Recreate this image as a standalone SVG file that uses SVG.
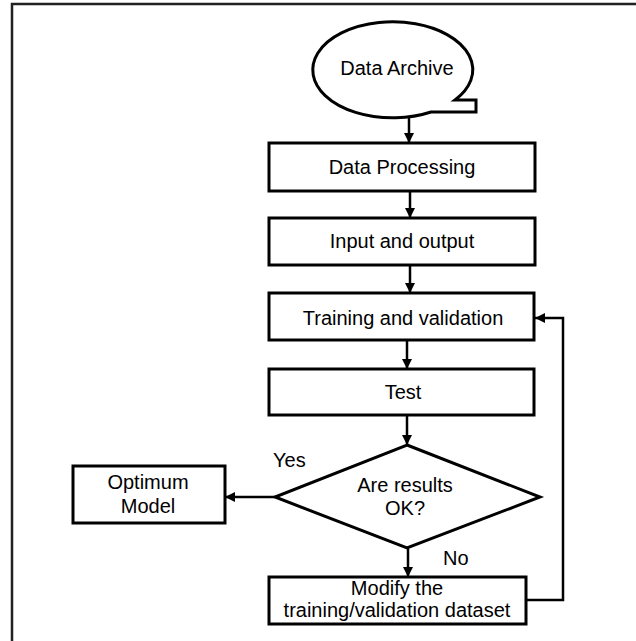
<svg xmlns="http://www.w3.org/2000/svg" width="636" height="641" viewBox="0 0 636 641">
<defs>
<style>
.box{fill:#fff;stroke:#000;stroke-width:3}
.ln{fill:none;stroke:#000;stroke-width:2.5}
text{font-family:"Liberation Sans",Arial,sans-serif;font-size:20px;fill:#000;text-anchor:middle}
.lbl{text-anchor:start}
</style>
<marker id="ah" viewBox="0 0 10 10" refX="10" refY="5" markerWidth="10" markerHeight="10" markerUnits="userSpaceOnUse" orient="auto">
<path d="M0,0 L10,5 L0,10 Z" fill="#000"/>
</marker>
</defs>
<rect width="636" height="641" fill="#fff"/>
<path d="M12,641 L12,4 L636,4" fill="none" stroke="#222" stroke-width="2.5"/>
<g id="connectors">
<line class="ln" x1="409" y1="117" x2="409" y2="143" marker-end="url(#ah)"/>
<line class="ln" x1="410" y1="191" x2="410" y2="218" marker-end="url(#ah)"/>
<line class="ln" x1="410" y1="265" x2="410" y2="293" marker-end="url(#ah)"/>
<line class="ln" x1="407" y1="340" x2="407" y2="369" marker-end="url(#ah)"/>
<line class="ln" x1="407" y1="415" x2="407" y2="445" marker-end="url(#ah)"/>
<line class="ln" x1="275" y1="497" x2="225" y2="497" marker-end="url(#ah)"/>
<line class="ln" x1="408" y1="548" x2="408" y2="577" marker-end="url(#ah)"/>
<polyline class="ln" points="526,600 563,600 563,318 535,318" marker-end="url(#ah)"/>
</g>
<g id="data-archive">
<path class="box" d="M455,100 L476,100 L476,112 L431,112 A80,48 0 1 1 455,100 Z"/>
<text x="397" y="75">Data Archive</text>
</g>
<g id="data-processing">
<rect class="box" x="269" y="143" width="266" height="48"/>
<text x="402" y="174">Data Processing</text>
</g>
<g id="input-output">
<rect class="box" x="269" y="218" width="266" height="47"/>
<text x="402" y="248">Input and output</text>
</g>
<g id="training">
<rect class="box" x="269" y="293" width="265" height="47"/>
<text x="403" y="325">Training and validation</text>
</g>
<g id="test">
<rect class="box" x="269" y="369" width="265" height="46"/>
<text x="403" y="399">Test</text>
</g>
<g id="decision">
<polygon class="box" points="407,445 540,497 407,548 275,497"/>
<text x="405" y="492">Are results</text>
<text x="405" y="515">OK?</text>
</g>
<g id="optimum">
<rect class="box" x="73" y="466" width="152" height="57"/>
<text x="148" y="489">Optimum</text>
<text x="148" y="513">Model</text>
</g>
<g id="modify">
<rect class="box" x="269" y="577" width="257" height="47"/>
<text x="397" y="595">Modify the</text>
<text x="397" y="617">training/validation dataset</text>
</g>
<text class="lbl" x="273" y="467">Yes</text>
<text class="lbl" x="443" y="565">No</text>
</svg>
